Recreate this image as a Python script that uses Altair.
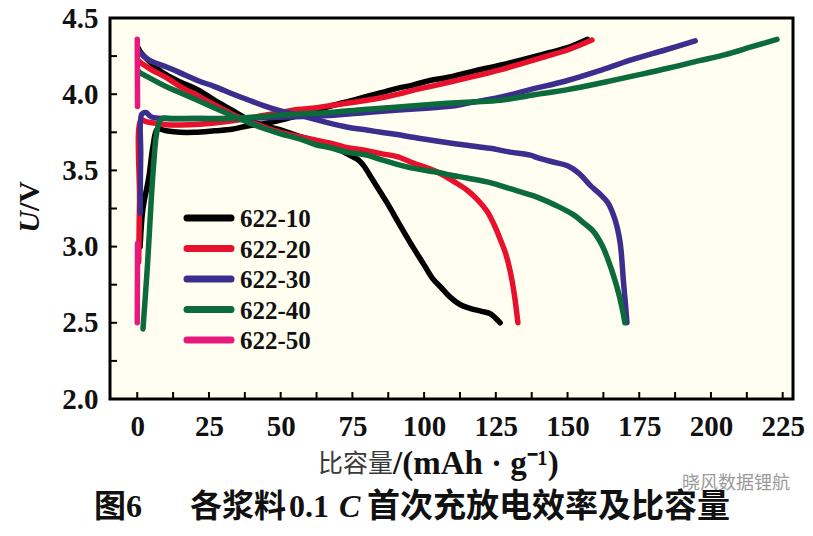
import altair as alt
import pandas as pd

names = ["622-10", "622-20", "622-30", "622-40", "622-50"]
colors = ["#000000", "#E8112D", "#3C2E8E", "#0B6B3A", "#E5197E"]

# 622-10
c10_x = [1, 2, 4, 5.5, 7, 10, 15, 20, 27, 33, 38, 45, 50, 56, 61, 67, 73, 79, 85, 91, 96, 102, 108, 118, 126.5, 134, 142, 150, 157]
c10_y = [3.0, 3.25, 3.45, 3.66, 3.77, 3.76, 3.75, 3.75, 3.76, 3.77, 3.79, 3.81, 3.83, 3.86, 3.88, 3.92, 3.95, 3.98, 4.01, 4.04, 4.06, 4.09, 4.11, 4.155, 4.19, 4.225, 4.265, 4.305, 4.36]
d10_x = [0.5, 1, 4.5, 9, 15, 21, 27, 33.5, 39, 45, 51, 57, 63, 68, 73, 77, 79, 82, 87, 91.6, 96, 100, 103, 106, 109, 112.5, 116, 120, 123, 126.5]
d10_y = [4.30, 4.28, 4.21, 4.14, 4.08, 4.03, 3.96, 3.89, 3.83, 3.79, 3.76, 3.72, 3.69, 3.66, 3.61, 3.57, 3.53, 3.44, 3.29, 3.14, 3.00, 2.88, 2.79, 2.73, 2.67, 2.62, 2.595, 2.575, 2.56, 2.50]

# 622-20
c20_x = [0.5, 0.8, 1.3, 3, 6, 10, 18, 26, 35, 44, 50, 56, 62, 67, 73, 80, 86, 91, 97, 102, 109, 118, 126.5, 134, 142, 150, 158.5]
c20_y = [2.9, 3.3, 3.83, 3.82, 3.81, 3.80, 3.80, 3.81, 3.83, 3.86, 3.88, 3.90, 3.91, 3.925, 3.94, 3.96, 3.98, 4.00, 4.03, 4.05, 4.08, 4.12, 4.16, 4.20, 4.245, 4.29, 4.355]
d20_x = [0.5, 1, 5, 10, 15, 21, 27, 33, 38, 45, 50, 57, 62, 67, 73, 80, 85, 90.6, 96, 102, 105.6, 111, 115, 118.5, 122, 124.5, 126.5, 128.5, 130, 131.5, 132.7]
d20_y = [4.22, 4.21, 4.16, 4.11, 4.05, 3.99, 3.93, 3.87, 3.83, 3.78, 3.75, 3.72, 3.70, 3.68, 3.65, 3.63, 3.61, 3.59, 3.55, 3.51, 3.48, 3.42, 3.37, 3.31, 3.23, 3.14, 3.05, 2.95, 2.84, 2.68, 2.50]

# 622-30
c30_x = [1, 1.2, 1.6, 3, 5, 10, 20, 30, 45, 60, 67, 80, 90, 102, 109, 115, 126.5, 137, 150, 162, 173, 184, 194.5]
c30_y = [3.22, 3.6, 3.87, 3.88, 3.85, 3.84, 3.84, 3.84, 3.845, 3.855, 3.86, 3.88, 3.895, 3.91, 3.92, 3.94, 3.98, 4.03, 4.09, 4.16, 4.23, 4.29, 4.35]
d30_x = [0.5, 1, 4.5, 10, 15, 21, 27, 33.5, 39, 44, 50, 57, 62, 67, 73, 80, 85, 90.6, 96, 102, 109, 115, 123, 130, 137, 140, 145, 150, 154, 158, 161, 164, 166.5, 168.3, 169.5, 170.2, 170.7]
d30_y = [4.28, 4.27, 4.22, 4.18, 4.14, 4.09, 4.05, 4.00, 3.96, 3.925, 3.89, 3.86, 3.835, 3.81, 3.785, 3.765, 3.75, 3.735, 3.717, 3.70, 3.68, 3.665, 3.645, 3.62, 3.60, 3.58, 3.555, 3.53, 3.48, 3.40, 3.35, 3.29, 3.18, 3.03, 2.77, 2.62, 2.50]

# 622-40
c40_x = [2, 3.5, 5.6, 7, 8.5, 12, 22, 32, 45, 56, 67, 79, 90, 100, 108, 117, 126.5, 138, 150, 162, 173, 185, 196, 205, 214, 223]
c40_y = [2.46, 2.86, 3.51, 3.77, 3.84, 3.84, 3.84, 3.84, 3.855, 3.87, 3.88, 3.90, 3.915, 3.93, 3.94, 3.95, 3.96, 3.995, 4.03, 4.075, 4.12, 4.17, 4.22, 4.26, 4.31, 4.36]
d40_x = [0.5, 1, 2, 10, 15, 21, 27, 33, 38, 45, 50, 56, 62, 67, 73, 80, 85, 90.6, 96, 102, 105.6, 109, 115, 123, 130, 137, 140, 146, 152, 156, 159, 162, 164, 167, 169, 170]
d40_y = [4.15, 4.14, 4.13, 4.05, 4.01, 3.96, 3.91, 3.86, 3.82, 3.77, 3.74, 3.71, 3.67, 3.65, 3.62, 3.60, 3.57, 3.54, 3.515, 3.495, 3.485, 3.47, 3.45, 3.42, 3.38, 3.34, 3.32, 3.27, 3.21, 3.15, 3.10, 3.01, 2.92, 2.75, 2.60, 2.50]

# 622-50
c50_x = [0, 0.1]
c50_y = [2.5, 3.02]
d50_x = [0, 0.1]
d50_y = [4.36, 3.92]

x_labels = [0, 25, 50, 75, 100, 125, 150, 175, 200, 225]
y_labels = [2.0, 2.5, 3.0, 3.5, 4.0, 4.5]
x_ticks = [0, 12.5, 25, 37.5, 50, 62.5, 75, 87.5, 100, 112.5, 125, 137.5, 150, 162.5, 175, 187.5, 200, 212.5, 225]
y_ticks = [2.25, 2.5, 2.75, 3.0, 3.25, 3.5, 3.75, 4.0, 4.25]

series = [
    ("622-10", "c", c10_x, c10_y), ("622-10", "d", d10_x, d10_y),
    ("622-20", "c", c20_x, c20_y), ("622-20", "d", d20_x, d20_y),
    ("622-30", "c", c30_x, c30_y), ("622-30", "d", d30_x, d30_y),
    ("622-40", "c", c40_x, c40_y), ("622-40", "d", d40_x, d40_y),
    ("622-50", "c", c50_x, c50_y), ("622-50", "d", d50_x, d50_y),
]
rows = []
for name, kind, xs, ys in series:
    for i, (xv, yv) in enumerate(zip(xs, ys)):
        rows.append({"sample": name, "seg": name + kind, "i": i, "x": xv, "y": yv})
df = pd.DataFrame(rows)

SERIF = "Liberation Serif, Times New Roman, Noto Sans CJK SC"
CJK = "Noto Sans CJK SC"

H = 381
xscale = alt.Scale(domain=[-9.5, 228.6], nice=False, zero=False)
yscale = alt.Scale(domain=[2.0, 4.5], nice=False, zero=False)
cscale = alt.Scale(domain=names, range=colors)

lines = alt.Chart(df).mark_line(strokeWidth=5.5, strokeCap="round", strokeJoin="round", clip=True,
                                interpolate="catmull-rom").encode(
    x=alt.X("x:Q", scale=xscale, axis=alt.Axis(values=x_labels, title=None, ticks=False, domain=False, grid=False,
                                               labelFont=SERIF, labelFontSize=29, labelFontWeight="bold",
                                               labelColor="#111", labelPadding=13, labelFlush=False, labelOverlap=False)),
    y=alt.Y("y:Q", scale=yscale, axis=alt.Axis(values=y_labels, format=".1f", title=None, ticks=False, domain=False,
                                               grid=False, labelFont=SERIF, labelFontSize=29, labelFontWeight="bold",
                                               labelColor="#111", labelPadding=12, labelFlush=False, labelOverlap=False)),
    color=alt.Color("sample:N", scale=cscale, legend=None),
    detail="seg:N",
    order="i:Q",
)

xt = alt.Chart(pd.DataFrame({"v": x_ticks})).mark_rule(color="black", strokeWidth=2).encode(
    x=alt.X("v:Q", scale=xscale), y=alt.value(H), y2=alt.value(H - 7))
yt = alt.Chart(pd.DataFrame({"v": y_ticks})).mark_rule(color="black", strokeWidth=2).encode(
    y=alt.Y("v:Q", scale=yscale, axis=None), x=alt.value(0), x2=alt.value(7))

leg_df = pd.DataFrame({"sample": names, "row": list(range(len(names)))})
leg_y = alt.Y("row:Q", scale=alt.Scale(domain=[0, 4], range=[200, 322]), axis=None)
leg_rule = alt.Chart(leg_df).mark_rule(strokeWidth=7, strokeCap="round").encode(
    x=alt.value(77), x2=alt.value(121), y=leg_y, color=alt.Color("sample:N", scale=cscale, legend=None))
leg_text = alt.Chart(leg_df).mark_text(align="left", baseline="middle", font=SERIF, fontSize=25,
                                       fontWeight="bold", color="#111", dy=1).encode(
    x=alt.value(130), y=leg_y, text="sample:N")


def label(txt, x, y, **kw):
    return alt.Chart(pd.DataFrame({"t": [txt]})).mark_text(**kw).encode(
        text="t:N", x=alt.value(x), y=alt.value(y))


ytitle_u = label("U", -80, 193, angle=270, align="right", baseline="middle", font=SERIF, fontSize=30,
                 fontWeight="bold", fontStyle="italic", color="#111")
ytitle_v = label("/V", -80, 193, angle=270, align="left", baseline="middle", font=SERIF, fontSize=30,
                 fontWeight="bold", color="#111")

bold_serif = dict(baseline="middle", font=SERIF, fontWeight="bold", color="#111")
XT_Y = 446
xtitle_a = label("比容量", 283, XT_Y, align="right", baseline="middle", font=CJK, fontSize=25,
                 fontWeight="normal", color="#3a3a3a")
xtitle_b = label("/(mAh\u00a0·\u00a0g⁻¹)", 283, XT_Y, align="left", fontSize=33, **bold_serif)

CAP_Y = 489
cap = [
    label("图6", -16, CAP_Y, align="left", fontSize=32, **bold_serif),
    label("各浆料", 80, CAP_Y, align="left", baseline="middle", font=CJK, fontSize=32, fontWeight="bold",
          color="#111"),
    label("0.1", 179, CAP_Y, align="left", fontSize=32, **bold_serif),
    label("C", 229, CAP_Y, align="left", baseline="middle", font=SERIF, fontSize=32, fontWeight="bold",
          fontStyle="italic", color="#111"),
    label("首次充放电效率及比容量", 257, CAP_Y, align="left", baseline="middle", font=CJK, fontSize=33,
          fontWeight="bold", color="#111"),
]
wm = label("晓风数据锂航", 680, 466, align="right", baseline="middle", font=CJK, fontSize=18,
           color="#9a9a9a")

chart = alt.layer(lines, xt, yt, leg_rule, leg_text, ytitle_u, ytitle_v, xtitle_a, xtitle_b, wm, *cap
                  ).resolve_scale(y="independent").properties(
    width=683, height=H,
    autosize=alt.AutoSizeParams(type="none"),
    padding={"left": 102, "top": 10, "right": 12, "bottom": 129},
    background="white",
).configure_view(stroke="black", strokeWidth=3, fill="#FFFEF0")

chart.save("out.html", embed_options={"renderer": "svg", "actions": False})
